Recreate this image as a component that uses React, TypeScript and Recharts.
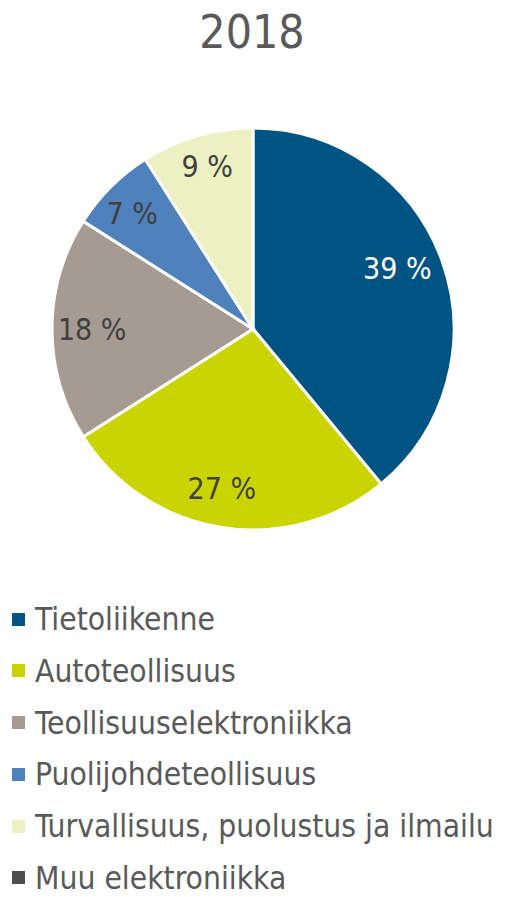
import { Cell, Legend, Pie, PieChart } from 'recharts';

const categories = [
  'Tietoliikenne',
  'Autoteollisuus',
  'Teollisuuselektroniikka',
  'Puolijohdeteollisuus',
  'Turvallisuus, puolustus ja ilmailu',
  'Muu elektroniikka',
];
const shares = [39, 27, 18, 7, 9, 0];
const sliceColors = ['#005483', '#C9D400', '#A69B93', '#4F81BD', '#EDF0C0', '#4D4D4D'];
// small label nudges (px) to mimic the original's placement
const labelNudge = [
  [-7, -6],
  [-6, 1],
  [0, 0],
  [-7, -2],
  [-1, -8],
  [0, 0],
];

const FONT = '"DejaVu Sans Condensed", "DejaVu Sans", sans-serif';
const RADIAN = Math.PI / 180;

const rows = categories.map((name, i) => ({ name, value: shares[i] }));

function renderLabel(props: any) {
  const { cx, cy, midAngle, outerRadius, value, index } = props;
  if (!value) return null;
  const r = outerRadius * 0.8;
  const x = cx + r * Math.cos(-midAngle * RADIAN) + labelNudge[index][0];
  const y = cy + r * Math.sin(-midAngle * RADIAN) + labelNudge[index][1];
  return (
    <text
      x={x}
      y={y}
      textAnchor="middle"
      dominantBaseline="central"
      fill={index === 0 ? '#ffffff' : '#404040'}
      fontSize={30}
      fontFamily={FONT}
    >
      {`${value} %`}
    </text>
  );
}

function LegendList() {
  return (
    <div style={{ fontFamily: FONT, fontSize: 31.5, color: '#595959' }}>
      {categories.map((name, i) => (
        <div
          key={name}
          style={{
            height: 28,
            marginBottom: i < categories.length - 1 ? 23.8 : 0,
            whiteSpace: 'nowrap',
            display: 'flex',
            alignItems: 'center',
          }}
        >
          <span style={{ display: 'inline-block', width: 13, height: 13, background: sliceColors[i], marginRight: 10 }} />
          <span style={{ lineHeight: '28px' }}>{name}</span>
        </div>
      ))}
    </div>
  );
}

export default function App() {
  return (
    <div style={{ position: 'absolute', left: 0, top: 0, width: 511, height: 897, background: '#fff' }}>
      <div
        style={{
          position: 'absolute',
          left: 0,
          top: 9,
          width: 504,
          textAlign: 'center',
          fontFamily: FONT,
          fontSize: 46,
          lineHeight: '46px',
          color: '#595959',
        }}
      >
        2018
      </div>
      <PieChart width={511} height={897} margin={{ top: 0, right: 0, bottom: 0, left: 0 }}>
        <Pie
          data={rows}
          dataKey="value"
          nameKey="name"
          cx={253}
          cy={329}
          outerRadius={201}
          startAngle={90}
          endAngle={-270}
          stroke="#ffffff"
          strokeWidth={3}
          label={renderLabel}
          labelLine={false}
          isAnimationActive={false}
        >
          {rows.map((row, i) => (
            <Cell key={row.name} fill={sliceColors[i]} />
          ))}
        </Pie>
        <Legend
          content={() => <LegendList />}
          wrapperStyle={{ position: 'absolute', left: 12, top: 605, width: 499, bottom: 'auto' }}
        />
      </PieChart>
    </div>
  );
}
